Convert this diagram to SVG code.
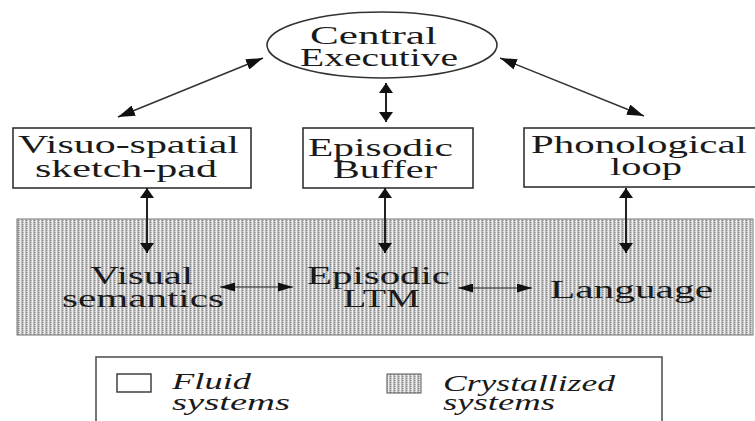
<svg xmlns="http://www.w3.org/2000/svg" width="755" height="421" viewBox="0 0 755 421">
  <style>
    .box { fill: #ffffff; stroke: #333333; stroke-width: 1.6; }
    .lbl { font-family: "Liberation Serif", "Times New Roman", serif; font-size: 25px; fill: #1a1a1a; }
    .lt { font-family: "Liberation Serif", "Times New Roman", serif; font-size: 24px; font-style: italic; fill: #1a1a1a; }
    .v { stroke: #222222; stroke-width: 2; fill: none; marker-start: url(#headV); marker-end: url(#headV); }
    .h { stroke: #222222; stroke-width: 1.2; fill: none; marker-start: url(#headH); marker-end: url(#headH); }
    .d { stroke: #333333; stroke-width: 1.5; fill: none; marker-start: url(#headD); marker-end: url(#headD); }
  </style>
  <defs>
    <marker id="headV" viewBox="0 -7 10 14" markerUnits="userSpaceOnUse" markerWidth="10" markerHeight="14" refX="10" refY="0" orient="auto-start-reverse">
      <path d="M0,-7 L10,0 L0,7 z" fill="#111111"/>
    </marker>
    <marker id="headH" viewBox="0 -4.5 15 9" markerUnits="userSpaceOnUse" markerWidth="15" markerHeight="9" refX="15" refY="0" orient="auto-start-reverse">
      <path d="M0,-4.5 L15,0 L0,4.5 z" fill="#111111"/>
    </marker>
    <marker id="headD" viewBox="0 -5.5 17 11" markerUnits="userSpaceOnUse" markerWidth="17" markerHeight="11" refX="17" refY="0" orient="auto-start-reverse">
      <path d="M0,-5.5 L17,0 L0,5.5 z" fill="#111111"/>
    </marker>
    <!-- fine stippled vertical screen used for crystallized systems -->
    <pattern id="screen" width="4" height="2" patternUnits="userSpaceOnUse">
      <rect width="4" height="2" fill="#bdbdbd"/>
      <rect x="0" width="1" height="2" fill="#eeeeee"/>
      <rect x="2" width="1" height="1" fill="#858585"/>
      <rect x="3" y="1" width="1" height="1" fill="#dcdcdc"/>
    </pattern>
  </defs>

  <!-- crystallized systems band -->
  <g id="crystallized">
    <rect x="17" y="219" width="736" height="116" fill="url(#screen)" stroke="#777777" stroke-width="1"/>
  </g>

  <g id="central-executive">
    <ellipse cx="382" cy="45" rx="115" ry="33" class="box"/>
    <text class="lbl" x="310" y="44" textLength="127" lengthAdjust="spacingAndGlyphs">Central</text>
    <text class="lbl" x="300" y="66" textLength="158" lengthAdjust="spacingAndGlyphs">Executive</text>
  </g>

  <g id="visuo-spatial">
    <rect x="13" y="128" width="238" height="60" class="box"/>
    <text class="lbl" x="18" y="153" textLength="221" lengthAdjust="spacingAndGlyphs">Visuo-spatial</text>
    <text class="lbl" x="35" y="177" textLength="182" lengthAdjust="spacingAndGlyphs">sketch-pad</text>
  </g>

  <g id="episodic-buffer">
    <rect x="303" y="128" width="170" height="60" class="box"/>
    <text class="lbl" x="308" y="156" textLength="145" lengthAdjust="spacingAndGlyphs">Episodic</text>
    <text class="lbl" x="333" y="178" textLength="104" lengthAdjust="spacingAndGlyphs">Buffer</text>
  </g>

  <g id="phonological-loop">
    <rect x="524" y="128" width="240" height="59" class="box"/>
    <text class="lbl" x="531" y="153" textLength="216" lengthAdjust="spacingAndGlyphs">Phonological</text>
    <text class="lbl" x="610" y="175" textLength="72" lengthAdjust="spacingAndGlyphs">loop</text>
  </g>

  <g id="visual-semantics">
    <text class="lbl" x="90" y="284" textLength="103" lengthAdjust="spacingAndGlyphs">Visual</text>
    <text class="lbl" x="62" y="307" textLength="162" lengthAdjust="spacingAndGlyphs">semantics</text>
  </g>

  <g id="episodic-ltm">
    <text class="lbl" x="307" y="284" textLength="143" lengthAdjust="spacingAndGlyphs">Episodic</text>
    <text class="lbl" x="343" y="307" textLength="77" lengthAdjust="spacingAndGlyphs">LTM</text>
  </g>

  <g id="language">
    <text class="lbl" x="550" y="298" textLength="163" lengthAdjust="spacingAndGlyphs">Language</text>
  </g>

  <g id="connectors">
    <line class="d" x1="263" y1="58" x2="118" y2="117"/>
    <line class="d" x1="500" y1="58" x2="644" y2="116"/>
    <line class="v" x1="386" y1="83" x2="386" y2="122"/>
    <line class="v" x1="147" y1="188" x2="147" y2="253"/>
    <line class="v" x1="385" y1="188" x2="385" y2="253"/>
    <line class="v" x1="626" y1="188" x2="626" y2="253"/>
    <line class="h" x1="220" y1="287" x2="293" y2="287"/>
    <line class="h" x1="458" y1="288" x2="532" y2="288"/>
  </g>

  <g id="legend">
    <rect x="96" y="357" width="566" height="80" fill="#ffffff" stroke="#555555" stroke-width="1.6"/>
    <rect x="117" y="374" width="34" height="18" fill="#ffffff" stroke="#333333" stroke-width="1.4"/>
    <text class="lt" x="172" y="389" textLength="79" lengthAdjust="spacingAndGlyphs">Fluid</text>
    <text class="lt" x="172" y="410" textLength="118" lengthAdjust="spacingAndGlyphs">systems</text>
    <rect x="387" y="374" width="34" height="19" fill="url(#screen)" stroke="#555555" stroke-width="1"/>
    <text class="lt" x="443" y="391" textLength="172" lengthAdjust="spacingAndGlyphs">Crystallized</text>
    <text class="lt" x="443" y="410" textLength="112" lengthAdjust="spacingAndGlyphs">systems</text>
  </g>
</svg>
